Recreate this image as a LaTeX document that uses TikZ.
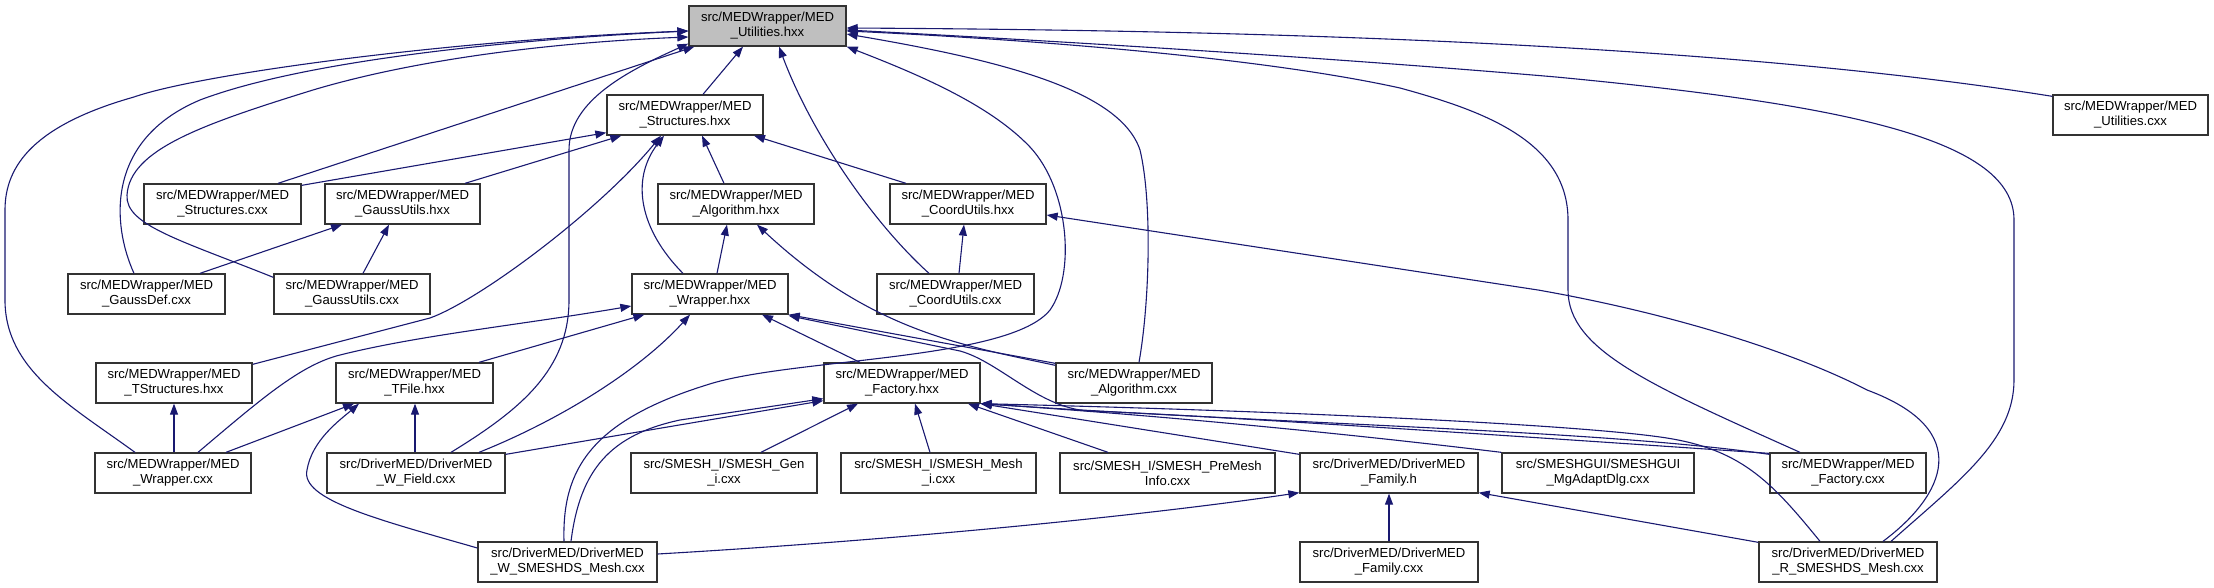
\documentclass[tikz,border=0pt]{standalone}
\usepackage{fontspec}
\setmainfont{Liberation Sans}
\usetikzlibrary{arrows.meta,calc}
\definecolor{edgeblue}{HTML}{191970}
\definecolor{rootgray}{HTML}{BFBFBF}
\begin{document}
\begin{tikzpicture}[x=1pt,y=-1pt,
  box/.style={draw=black!80, line width=1.3pt, fill=white, minimum height=40pt, inner sep=0pt, align=center, font=\fontsize{13.1}{15}\selectfont},
  dep/.style={draw=edgeblue, line width=1.1pt, -{Triangle[length=11pt,width=8pt]}}]
\useasboundingbox (0,0) rectangle (2214,588);
% nodes
\node[box, minimum width=157pt, fill=rootgray] (U) at (767.5,26) {src/MEDWrapper/MED\\\_Utilities.hxx};
\node[box, minimum width=155pt] (Ucxx) at (2130.5,115) {src/MEDWrapper/MED\\\_Utilities.cxx};
\node[box, minimum width=156pt] (S) at (685,115) {src/MEDWrapper/MED\\\_Structures.hxx};
\node[box, minimum width=157pt] (Scxx) at (222.5,204) {src/MEDWrapper/MED\\\_Structures.cxx};
\node[box, minimum width=155pt] (GUh) at (402.5,204) {src/MEDWrapper/MED\\\_GaussUtils.hxx};
\node[box, minimum width=156pt] (Ah) at (736,204) {src/MEDWrapper/MED\\\_Algorithm.hxx};
\node[box, minimum width=156pt] (Ch) at (968,204) {src/MEDWrapper/MED\\\_CoordUtils.hxx};
\node[box, minimum width=157pt] (GDcxx) at (146.5,294) {src/MEDWrapper/MED\\\_GaussDef.cxx};
\node[box, minimum width=156pt] (GUcxx) at (352,294) {src/MEDWrapper/MED\\\_GaussUtils.cxx};
\node[box, minimum width=156pt] (Wh) at (710,294) {src/MEDWrapper/MED\\\_Wrapper.hxx};
\node[box, minimum width=157pt] (Ccxx) at (955.5,294) {src/MEDWrapper/MED\\\_CoordUtils.cxx};
\node[box, minimum width=156pt] (TSh) at (174,383) {src/MEDWrapper/MED\\\_TStructures.hxx};
\node[box, minimum width=157pt] (Th) at (414.5,383) {src/MEDWrapper/MED\\\_TFile.hxx};
\node[box, minimum width=156pt] (Fh) at (902,383) {src/MEDWrapper/MED\\\_Factory.hxx};
\node[box, minimum width=156pt] (Acxx) at (1134,383) {src/MEDWrapper/MED\\\_Algorithm.cxx};
\node[box, minimum width=156pt] (Wcxx) at (173,473) {src/MEDWrapper/MED\\\_Wrapper.cxx};
\node[box, minimum width=178pt] (WF) at (416,473) {src/DriverMED/DriverMED\\\_W\_Field.cxx};
\node[box, minimum width=186pt] (Gen) at (724,473) {src/SMESH\_I/SMESH\_Gen\\\_i.cxx};
\node[box, minimum width=195pt] (Mesh) at (938.5,473) {src/SMESH\_I/SMESH\_Mesh\\\_i.cxx};
\node[box, minimum width=215pt] (Pre) at (1167.5,473) {src/SMESH\_I/SMESH\_PreMesh\\Info.cxx};
\node[box, minimum width=178pt] (Fam) at (1389,473) {src/DriverMED/DriverMED\\\_Family.h};
\node[box, minimum width=192pt] (Mg) at (1598,473) {src/SMESHGUI/SMESHGUI\\\_MgAdaptDlg.cxx};
\node[box, minimum width=156pt] (Fcxx) at (1848,473) {src/MEDWrapper/MED\\\_Factory.cxx};
\node[box, minimum width=179pt] (WS) at (567.5,562) {src/DriverMED/DriverMED\\\_W\_SMESHDS\_Mesh.cxx};
\node[box, minimum width=178pt] (Famcxx) at (1389,562) {src/DriverMED/DriverMED\\\_Family.cxx};
\node[box, minimum width=178pt] (RS) at (1848,562) {src/DriverMED/DriverMED\\\_R\_SMESHDS\_Mesh.cxx};
% edges into U
\draw[dep] ($(S.north)+(18,0)$) -- ($(U.south)+(-24.5,0)$);
\draw[dep] ($(Scxx.north)+(55.5,0)$) -- ($(U.south west)+(6,0)$);
\draw[dep] ($(GDcxx.north)+(-12.5,0)$) .. controls (112,225) and (105,140) .. (200,100) .. controls (300,62) and (500,40) .. ($(U.west)+(0,5)$);
\draw[dep] ($(Wcxx.north)+(-38,0)$) .. controls (70,405) and (5,370) .. (5,300) -- (5,210) .. controls (5,165) and (35,125) .. (134,97) .. controls (200,74) and (450,40) .. ($(U.west)+(0,5)$);
\draw[dep] ($(GUcxx.north west)+(0,4)$) .. controls (180,240) and (125,225) .. (127,195) .. controls (130,150) and (200,125) .. (313,90) .. controls (420,58) and (560,42) .. ($(U.west)+(0,11)$);
\draw[dep] ($(WF.north)+(35,0)$) .. controls (520,410) and (569,370) .. (569,300) -- (569,150) .. controls (569,100) and (630,70) .. ($(U.south west)+(0,-3)$);
\draw[dep] ($(Ccxx.north)+(-26.5,0)$) .. controls (870,220) and (810,130) .. ($(U.south)+(11.5,0)$);
\draw[dep] ($(Acxx.north)+(5,0)$) .. controls (1150,300) and (1152,200) .. (1140,150) .. controls (1120,90) and (1000,60) .. ($(U.east)+(0,8)$);
\draw[dep] ($(WS.north)+(-3.5,0)$) .. controls (562,470) and (590,420) .. (713,383) .. controls (800,358) and (1010,360) .. (1050,310) .. controls (1075,275) and (1070,190) .. (1030,147) .. controls (990,105) and (920,75) .. (U.south east);
\draw[dep] ($(Fcxx.north)+(-48,0)$) .. controls (1650,385) and (1568,350) .. (1568,290) -- (1568,220) .. controls (1568,140) and (1480,110) .. (1400,88) .. controls (1250,55) and (1000,38) .. ($(U.east)+(0,5)$);
\draw[dep] ($(RS.north)+(43,0)$) .. controls (1960,480) and (2014,440) .. (2014,380) -- (2014,220) .. controls (2014,140) and (1850,105) .. (1556,77) .. controls (1300,55) and (1000,38) .. ($(U.east)+(0,4)$);
\draw[dep] ($(Ucxx.north west)+(0,2)$) .. controls (1700,40) and (1200,30) .. ($(U.east)+(0,2)$);
% edges into S
\draw[dep] ($(Scxx.north east)+(0,2)$) -- ($(S.south west)+(0,-3)$);
\draw[dep] ($(GUh.north)+(62.5,0)$) -- ($(S.south west)+(15,0)$);
\draw[dep] ($(TSh.north east)+(0,2)$) -- (430,318) .. controls (480,300) and (600,210) .. ($(S.south)+(-24,0)$);
\draw[dep] ($(Wh.north)+(-27,0)$) .. controls (640,230) and (630,180) .. ($(S.south)+(-21,0)$);
\draw[dep] ($(Ah.north)+(-12,0)$) -- ($(S.south)+(17,0)$);
\draw[dep] ($(Ch.north)+(-62,0)$) -- ($(S.south)+(69,0)$);
% GaussUtils.hxx
\draw[dep] ($(GDcxx.north)+(53.5,0)$) -- ($(GUh.south)+(-60.5,0)$);
\draw[dep] ($(GUcxx.north)+(11,0)$) -- ($(GUh.south)+(-13.5,0)$);
% Algorithm.hxx
\draw[dep] ($(Wh.north)+(7,0)$) -- ($(Ah.south)+(-9,0)$);
\draw[dep] ($(Acxx.north west)+(0,3)$) .. controls (960,345) and (870,330) .. ($(Ah.south)+(21,0)$);
% CoordUtils.hxx
\draw[dep] ($(Ccxx.north)+(3.5,0)$) -- ($(Ch.south)+(-4,0)$);
\draw[dep] ($(RS.north)+(35,0)$) .. controls (1945,495) and (1975,430) .. (1867,390) .. controls (1800,355) and (1680,315) .. (1538,290) -- ($(Ch.east)+(0,11)$);
% Wrapper.hxx
\draw[dep] ($(Wcxx.north)+(25,0)$) .. controls (260,400) and (300,365) .. (340,355) .. controls (420,335) and (520,325) .. ($(Wh.west)+(0,12)$);
\draw[dep] ($(Th.north)+(64.5,0)$) -- ($(Wh.south west)+(13,0)$);
\draw[dep] ($(WF.north)+(63,0)$) .. controls (560,420) and (640,370) .. ($(Wh.south)+(-20,0)$);
\draw[dep] ($(Fh.north)+(-42,0)$) -- ($(Wh.south)+(52,0)$);
\draw[dep] ($(Acxx.north west)+(0,1)$) -- (Wh.south east);
\draw[dep] ($(Fcxx.north west)+(0,1)$) .. controls (1500,435) and (1200,415) .. (1090,411) .. controls (1040,409) and (1000,362) .. (960,351) -- ($(Wh.south east)+(0,1)$);
% Factory.hxx
\draw[dep] ($(RS.north)+(-28,0)$) .. controls (1770,480) and (1740,448) .. (1660,437) .. controls (1560,423) and (1250,410) .. (Fh.south east);
\draw[dep] ($(Fcxx.north west)+(0,2)$) .. controls (1600,430) and (1300,425) .. (Fh.south east);
\draw[dep] (Mg.north west) .. controls (1400,440) and (1200,418) .. (Fh.south east);
\draw[dep] ($(Fam.north west)+(0,2)$) -- (Fh.south east);
\draw[dep] ($(Pre.north)+(-59.5,0)$) -- ($(Fh.south)+(66,0)$);
\draw[dep] ($(Mesh.north)+(-8.5,0)$) -- ($(Fh.south)+(13,0)$);
\draw[dep] ($(Gen.north)+(37,0)$) -- ($(Fh.south)+(-44,0)$);
\draw[dep] ($(WF.north east)+(0,2)$) -- ($(Fh.south west)+(0,-3)$);
\draw[dep] ($(WS.north)+(3.5,0)$) .. controls (580,470) and (610,435) .. (680,420) -- ($(Fh.south west)+(0,-5)$);
% TFile.hxx
\draw[dep] ($(Wcxx.north)+(53,0)$) -- ($(Th.south)+(-60.5,0)$);
\draw[dep] ($(WF.north)+(-1,0)$) -- ($(Th.south)+(0.5,0)$);
\draw[dep] ($(WS.west)+(0,-14)$) .. controls (380,520) and (300,500) .. (307,470) .. controls (312,440) and (340,420) .. ($(Th.south)+(-55.5,0)$);
% TStructures.hxx
\draw[dep] ($(Wcxx.north)+(1,0)$) -- (TSh.south);
% Family.h
\draw[dep] (Famcxx.north) -- (Fam.south);
\draw[dep] ($(WS.east)+(0,-8)$) .. controls (900,540) and (1150,515) .. ($(Fam.south west)+(0,-1)$);
\draw[dep] ($(RS.north west)+(0,1)$) -- ($(Fam.south east)+(0,-1)$);
\end{tikzpicture}
\end{document}
